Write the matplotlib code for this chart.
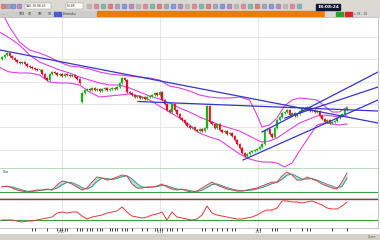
import numpy as np
import matplotlib
matplotlib.use("Agg")
import matplotlib.pyplot as plt
from matplotlib.patches import Rectangle

# ---------------- data ----------------
closes = [143, 145, 147, 144, 142, 140, 138, 137, 138, 136, 134, 133, 132, 131, 130, 130,
          126, 122, 120, 126, 128, 127, 125, 126, 124, 126, 125, 124, 125, 123, 121, 117,
          107, 110, 111, 110, 112, 110, 111, 109, 111, 112, 110, 111, 112, 111, 113, 117,
          122, 120, 108, 107, 105, 103, 104, 102, 103, 101, 103, 104, 105, 107, 105, 108,
          100, 96, 90, 88, 96, 90, 86, 82, 80, 77, 74, 72, 73, 70, 69, 71, 69, 72, 94, 78,
          76, 72, 76, 70, 68, 69, 66, 67, 64, 60, 56, 52, 47, 44, 46, 48, 49, 50, 51, 53,
          56, 70, 71, 66, 63, 72, 80, 83, 87, 88, 90, 85, 87, 84, 86, 89, 92, 91, 93, 89,
          90, 88, 89, 84, 81, 78, 80, 77, 78, 79, 82, 84, 86, 90, 92]
first_open = 141
gap_opens = {32: 98}

band_x = [-1, 1, 3, 7, 11, 15, 19, 23, 27, 31, 35, 39, 43, 47, 51, 55, 59, 63, 67, 71,
          75, 79, 83, 87, 91, 95, 99, 102, 104, 107, 110, 113, 116, 119, 123, 126, 129,
          132, 135, 138]
bb_upper = [195, 183, 173, 158, 150, 147, 143, 138, 134, 133, 131, 128, 126, 125, 124, 123,
            122, 120, 114, 112, 109, 105, 103, 102, 102, 103, 100, 85, 73, 75, 82, 94, 100,
            102, 101, 100, 94, 88, 88, 93]
bb_mid = [168, 165, 162, 155, 145, 138, 134, 130, 127, 123, 120, 117, 115, 115, 112, 108,
          104, 101, 97, 92, 88, 83, 79, 75, 72, 69, 64, 60, 58, 59, 62, 67, 72, 77, 81, 84,
          85, 84, 83, 84]
bb_lower = [133, 130, 128, 127, 127, 125, 118, 117, 117, 115, 108, 103, 104, 105, 106, 104,
            100, 94, 88, 82, 75, 67, 63, 60, 53, 46, 41, 39, 38, 38, 37, 33, 37, 49, 64, 75,
            77, 76, 75, 76]

# trend lines: (x0, y0, x1, y1) in bar / price units
trend_lines = [(-0.8, 150, 150.4, 77),
               (54.4, 98.5, 150.4, 89),
               (96.4, 40, 150.4, 100),
               (104, 68, 150.4, 128),
               (113.2, 82, 150.4, 113)]

ind_step = 2  # one indicator sample every two bars
stoch_k = [36.7, 40.0, 33.3, 26.7, 23.3, 20.0, 23.3, 26.7, 26.7, 30.0,
           26.7, 43.3, 56.7, 53.3, 46.7, 36.7, 26.7, 33.3, 53.3, 70.0,
           66.7, 60.0, 63.3, 70.0, 76.7, 73.3, 46.7, 33.3, 33.3, 36.7,
           36.7, 40.0, 46.7, 36.7, 30.0, 26.7, 30.0, 23.3, 20.0, 23.3,
           33.3, 43.3, 53.3, 43.3, 36.7, 30.0, 26.7, 23.3, 23.3, 26.7,
           30.0, 33.3, 40.0, 46.7, 53.3, 53.3, 73.3, 86.7, 76.7, 60.0,
           60.0, 70.0, 63.3, 56.7, 46.7, 40.0, 33.3, 30.0, 53.3, 83.3]
stoch_d = [38, 38, 37, 32, 27, 23, 22, 24, 26, 28,
           28, 33, 44, 52, 51, 44, 35, 30, 38, 55,
           66, 65, 62, 65, 71, 74, 64, 48, 37, 35,
           36, 38, 42, 41, 35, 30, 28, 27, 23, 22,
           26, 35, 45, 47, 41, 35, 30, 26, 24, 25,
           27, 30, 35, 41, 48, 52, 62, 76, 80, 72,
           63, 63, 65, 60, 53, 46, 40, 34, 38, 66]
rsi = [30.0, 30.0, 30.0, 28.1, 26.2, 28.1, 28.1, 30.0, 31.9, 33.8,
       35.7, 43.3, 45.2, 43.3, 45.2, 45.2, 37.6, 31.9, 35.7, 37.6,
       39.5, 43.3, 45.2, 47.1, 54.8, 45.2, 37.6, 35.7, 33.8, 35.7,
       39.5, 41.4, 45.2, 30.0, 45.2, 35.7, 33.8, 31.9, 30.0, 31.9,
       39.5, 56.7, 43.3, 39.5, 37.6, 35.7, 33.8, 31.9, 31.9, 33.8,
       35.7, 39.5, 45.2, 49.0, 49.0, 52.9, 66.2, 66.2, 64.3, 64.3,
       62.4, 64.3, 66.2, 62.4, 58.6, 52.9, 51.0, 51.0, 56.7, 64.3]
stoch_levels = [20]
rsi_levels = [70, 30]

event_ticks = [12, 13, 18, 22, 23, 24, 25, 26, 30, 31, 32, 34, 35, 36, 38, 39, 40, 43, 44,
               45, 46, 48, 49, 50, 52, 56, 58, 61, 62, 63, 64, 66, 67, 68, 70, 72, 80, 81,
               84, 86, 88, 90, 92, 93, 102, 103, 108, 109, 110, 115, 120, 122, 123, 132, 138]
date_labels = ['2/10', '1/11', '1/12']
date_pos = [24, 63.2, 102.4]
price_grid = [50, 73, 96, 118, 141, 163]

# ---------------- layout ----------------
W, H = 380, 240
fig = plt.figure(figsize=(W / 100, H / 100), dpi=100)
fig.patch.set_facecolor('white')


def rect(x0, y0, x1, y1):
    return [x0 / W, 1 - y1 / H, (x1 - x0) / W, (y1 - y0) / H]


XL = (-0.8, 150.4)
GRID = '#dcdcdc'
UP, DOWN = '#19b319', '#e0102a'


def style(ax):
    ax.set_xlim(*XL)
    ax.set_xticks([])
    ax.set_yticks([])
    for s in ax.spines.values():
        s.set_color('#b8b8b8')
        s.set_linewidth(0.6)
    ax.spines['left'].set_visible(False)
    for p in date_pos:
        ax.axvline(p, color=GRID, lw=0.5, zorder=0)


# main price panel
ax = fig.add_axes(rect(0, 17, 378, 168))
style(ax)
ax.set_ylim(32, 183)
for g in price_grid:
    ax.axhline(g, color=GRID, lw=0.5, zorder=0)

x = np.arange(len(closes))
opens = [first_open] + closes[:-1]
opens = [gap_opens.get(i, o) for i, o in enumerate(opens)]
o = np.array(opens, float)
c = np.array(closes, float)
col = np.where(c >= o, UP, DOWN)
top = np.maximum(o, c)
bot = np.minimum(o, c)
ax.vlines(x, bot - 1.3, top + 1.3, colors=col, lw=0.6, zorder=3)
ax.bar(x, np.maximum(top - bot, 0.9), bottom=bot, width=0.75, color=col,
       edgecolor=col, lw=0.2, zorder=4)

for band in (bb_upper, bb_mid, bb_lower):
    ax.plot(band_x, band, color='#e040e0', lw=0.8, zorder=2)
for (x0, y0, x1, y1) in trend_lines:
    ax.plot([x0, x1], [y0, y1], color='#3535c8', lw=0.9, zorder=5)

ix = np.arange(len(stoch_k)) * ind_step

# stochastic panel
ax2 = fig.add_axes(rect(0, 168, 378, 198))
style(ax2)
ax2.set_ylim(0, 100)
ax2.spines['top'].set_color('#a8d8a8')
for lv in stoch_levels:
    ax2.axhline(lv, color='#38a048', lw=0.8)
ax2.fill_between(ix, stoch_k, stoch_d, color='#a6e6dd', lw=0, zorder=1)
ax2.plot(ix, stoch_d, color='#4a8f8a', lw=0.7, zorder=2)
ax2.plot(ix, stoch_k, color='#d8404a', lw=0.7, zorder=3)
ax2.text(0.3, 92, 'Sto', fontsize=2.6, color='#444444', va='top')

# RSI panel
ax3 = fig.add_axes(rect(0, 198, 378, 228))
style(ax3)
ax3.set_ylim(14.8, 71.9)
ax3.axhline(rsi_levels[0], color='#a03a3a', lw=1.0)
ax3.axhline(rsi_levels[1], color='#38a048', lw=0.8)
ax3.plot(ix[:len(rsi)], rsi, color='#e0383c', lw=0.7)

# date row
ax4 = fig.add_axes(rect(0, 228, 378, 234))
ax4.set_xlim(*XL)
ax4.set_ylim(0, 1)
ax4.axis('off')
ax4.vlines(event_ticks, 0.55, 1.0, colors='#222222', lw=0.6)
for p, t in zip(date_pos, date_labels):
    ax4.text(p, 0.0, t, fontsize=2.4, color='#555555', ha='center', va='bottom')

# top toolbar (decoration)
tb = fig.add_axes(rect(0, 0, 380, 17))
tb.set_xlim(0, 380)
tb.set_ylim(17, 0)
tb.axis('off')
tb.add_patch(Rectangle((0, 0), 380, 11, color='#dcd9d3'))
tb.add_patch(Rectangle((0, 11), 97, 6, color='#cdcdcd'))
tb.add_patch(Rectangle((97, 11), 228, 6, color='#f07a05'))
tb.add_patch(Rectangle((325, 11), 55, 6, color='#d8d8d8'))
icon_cols = ['#c85a5a', '#8a8aa8', '#5a7ad0', '#9a6ab0', '#a8a8a8', '#d06a8a', '#5aa0a0']
icon_x = [1, 6, 11, 17] + list(range(87, 300, 7))
for k, ix0 in enumerate(icon_x):
    tb.add_patch(Rectangle((ix0, 3.5), 3.5, 4, color=icon_cols[k % len(icon_cols)],
                           alpha=0.6))
tb.add_patch(Rectangle((25, 2.5), 26, 6, facecolor='white', edgecolor='#888888', lw=0.3))
tb.text(26, 5.6, 'XAU-18.88.43', fontsize=2.2, va='center', color='#333333')
tb.add_patch(Rectangle((66, 2.5), 17, 6, facecolor='white', edgecolor='#888888', lw=0.3))
tb.text(67, 5.6, 'h4.88', fontsize=2.2, va='center', color='#333333')
tb.add_patch(Rectangle((316, 3.5), 24, 6.5, color='#101830'))
tb.text(328, 6.8, '18:08:24', fontsize=3.2, color='white', ha='center', va='center',
        fontweight='bold')
for tx, t in [(2, '…'), (19, '1M4'), (28, '1D'), (38, '1M'), (48, '1H'), (63, 'Ichimoku')]:
    tb.text(tx, 14.2, t, fontsize=2.2, va='center', color='#333333')
tb.add_patch(Rectangle((54, 12), 7, 4.5, color='#4a5ad0'))
tb.add_patch(Rectangle((336, 12), 7, 4.5, color='#2ca02c'))
tb.add_patch(Rectangle((345, 12), 7, 4.5, color='#d62728'))
tb.text(354, 14.2, 'c 38 : 28', fontsize=2.2, va='center', color='#555555')

# bottom bar (decoration)
bb = fig.add_axes(rect(0, 234, 380, 240))
bb.set_xlim(0, 380)
bb.set_ylim(6, 0)
bb.axis('off')
bb.add_patch(Rectangle((0, 0), 380, 6, color='#d4d1cb'))
bb.text(372, 3, 'Zoom', fontsize=2.2, ha='center', va='center', color='#666666')

fig.savefig('out.png', dpi=100)
